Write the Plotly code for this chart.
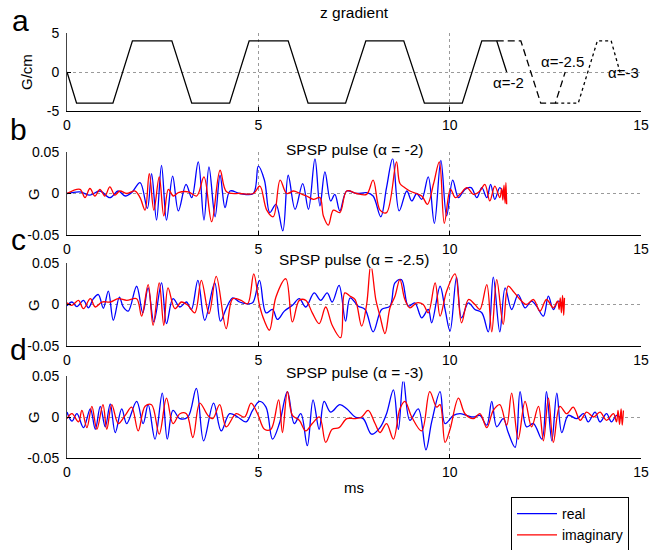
import plotly.graph_objects as go

# ---------------- data ----------------
# z gradient (G/cm) vs time (ms)
grad_a2 = [(0, 0), (0.25, -4), (1.2, -4), (1.71, 4), (2.74, 4), (3.26, -4), (4.25, -4), (4.76, 4),
           (5.78, 4), (6.3, -4), (7.28, -4), (7.81, 4), (8.8, 4), (9.34, -4), (10.33, -4), (10.84, 4),
           (11.23, 4), (11.49, 0)]
grad_a25 = [(11.23, 4), (11.86, 4), (12.38, -4), (12.76, -4), (13.02, 0)]
grad_a3 = [(12.76, -4), (13.36, -4), (13.86, 4), (14.22, 4), (14.45, 0)]
grad_labels = [("α=-2", 11.55, -1.4), ("α=-2.5", 12.95, 1.3), ("α=-3", 14.55, 0.0)]

# SPSP pulse alpha=-2 (G)
b_real = [(0, 0), (0.34, 0.002), (0.6, -0.002), (0.86, 0.003), (1.12, -0.005), (1.34, 0.003), (1.52, -0.003),
          (1.69, 0.001), (1.91, 0.013), (2.1, -0.018), (2.21, 0.024), (2.34, -0.032), (2.47, 0.034), (2.6, -0.032),
          (2.76, 0.021), (2.91, -0.021), (3.11, 0.011), (3.26, -0.005), (3.43, 0.038), (3.58, -0.032), (3.71, 0.032),
          (3.87, -0.028), (4.0, 0.022), (4.13, -0.017), (4.26, 0.003), (4.52, 0), (4.87, 0), (5.0, 0.033),
          (5.16, 0.016), (5.3, -0.023), (5.46, -0.013), (5.64, -0.045), (5.78, 0.022), (5.96, -0.019), (6.16, 0.012),
          (6.31, -0.019), (6.48, 0.042), (6.61, -0.015), (6.74, 0.026), (6.89, -0.009), (7.0, -0.001), (7.13, -0.021),
          (7.31, 0.003), (7.57, 0.0), (7.83, 0.001), (8.0, -0.003), (8.2, -0.028), (8.35, 0.007), (8.51, 0.042),
          (8.68, -0.021), (8.88, 0.003), (9.01, -0.009), (9.14, 0.0), (9.27, -0.007), (9.44, 0.02), (9.6, -0.036),
          (9.77, 0.04), (9.92, -0.027), (10.08, 0.016), (10.23, -0.005), (10.4, 0.005), (10.56, 0.007),
          (10.71, -0.005), (10.84, 0.007), (10.97, -0.005), (11.07, 0.011), (11.18, -0.007), (11.31, 0.007),
          (11.45, -0.007)]
b_imag = [(0, 0), (0.34, 0.005), (0.47, -0.005), (0.6, 0.006), (0.73, -0.003), (0.86, 0.005), (0.99, -0.003),
          (1.12, 0.008), (1.25, -0.002), (1.38, 0.003), (1.56, 0), (1.78, 0.003), (1.91, -0.005), (2.04, -0.02),
          (2.15, 0.024), (2.27, -0.02), (2.41, 0.02), (2.53, -0.027), (2.65, 0.005), (2.78, -0.003), (2.91, 0.001),
          (3.17, 0.002), (3.39, -0.003), (3.58, 0.02), (3.78, -0.034), (4.0, 0.028), (4.17, 0.002), (4.52, 0),
          (4.87, 0), (5.04, 0.009), (5.22, -0.02), (5.39, -0.028), (5.57, 0.016), (5.74, 0), (5.92, 0.003),
          (6.09, 0), (6.26, -0.003), (6.44, -0.007), (6.61, -0.005), (6.7, -0.027), (6.83, -0.038), (6.96, -0.02),
          (7.13, -0.023), (7.31, 0.003), (7.57, 0), (7.83, -0.001), (8.0, 0.016), (8.18, -0.02), (8.35, -0.023),
          (8.61, 0.038), (8.7, 0.012), (8.83, 0.007), (8.96, 0.003), (9.27, -0.003), (9.42, -0.013), (9.58, 0.012),
          (9.73, 0.038), (9.86, -0.036), (10.02, 0.005), (10.15, -0.005), (10.27, -0.001), (10.45, 0.007),
          (10.62, -0.001), (10.79, 0.003), (10.92, 0.011), (11.05, -0.009), (11.18, 0.009), (11.31, -0.005),
          (11.36, 0.006), (11.39, -0.008), (11.42, 0.01), (11.45, -0.012), (11.47, 0.013), (11.49, -0.013)]

# SPSP pulse alpha=-2.5 (G)
c_real = [(0, -0.0015), (0.13, 0.003), (0.26, -0.0026), (0.43, 0.005), (0.56, -0.004), (0.69, 0.007),
          (0.82, 0.012), (0.95, -0.0045), (1.08, 0.016), (1.21, -0.019), (1.37, 0.009), (1.47, -0.003),
          (1.6, -0.008), (1.82, 0.022), (1.98, -0.01), (2.12, 0.02), (2.27, -0.021), (2.47, 0.026), (2.6, -0.023),
          (2.77, 0.007), (2.95, -0.003), (3.12, 0.003), (3.25, -0.006), (3.42, 0.029), (3.6, -0.019), (3.86, 0.026),
          (4.01, -0.02), (4.16, -0.005), (4.33, 0.008), (4.51, 0.003), (4.68, 0.001), (4.85, 0.002), (5.03, 0.029),
          (5.2, -0.01), (5.37, -0.006), (5.5, -0.018), (5.68, -0.008), (5.89, -0.001), (6.07, 0.007),
          (6.24, -0.003), (6.46, 0.014), (6.63, 0.005), (6.8, 0.014), (6.93, 0.003), (7.11, 0.023), (7.28, -0.02),
          (7.4, 0.008), (7.61, -0.002), (7.79, -0.006), (8.0, -0.033), (8.22, -0.006), (8.44, -0.002),
          (8.57, 0.026), (8.74, 0.03), (8.92, -0.002), (9.09, 0.002), (9.27, -0.016), (9.44, -0.006),
          (9.53, -0.022), (9.75, 0.022), (9.88, -0.006), (10.01, -0.032), (10.18, 0.033), (10.31, -0.016),
          (10.49, 0.002), (10.66, -0.006), (10.84, -0.01), (11.01, -0.033), (11.14, 0.033), (11.31, -0.033),
          (11.45, 0.02), (11.62, -0.006), (11.79, 0.012), (11.97, -0.004), (12.14, 0.004), (12.27, -0.002),
          (12.45, -0.014), (12.58, 0.01), (12.71, -0.006), (12.84, 0.004), (12.97, 0)]
c_imag = [(0, 0.002), (0.13, -0.001), (0.3, 0.005), (0.43, -0.005), (0.61, 0.007), (0.74, -0.003), (0.91, 0.003),
          (1.13, 0.003), (1.34, 0.007), (1.56, 0.005), (1.82, 0.007), (1.95, -0.014), (2.12, 0.024), (2.25, -0.025),
          (2.41, 0.026), (2.53, -0.025), (2.64, 0.02), (2.82, -0.005), (2.99, 0.003), (3.16, -0.001), (3.34, -0.01),
          (3.51, 0.029), (3.71, -0.011), (3.9, 0.034), (4.16, -0.029), (4.33, 0.007), (4.55, 0.005), (4.72, 0.001),
          (4.88, 0.037), (5.03, -0.001), (5.16, -0.02), (5.29, -0.031), (5.46, 0.009), (5.72, 0.031),
          (5.89, -0.021), (6.07, 0.005), (6.24, 0.005), (6.41, -0.01), (6.59, -0.023), (6.76, -0.003),
          (6.93, -0.025), (7.15, -0.04), (7.26, 0.014), (7.4, 0.01), (7.53, 0.006), (7.7, -0.026), (7.83, 0),
          (7.94, 0.048), (8.07, 0.006), (8.18, -0.014), (8.31, -0.035), (8.44, -0.004), (8.57, 0.01), (8.7, 0.03),
          (8.83, 0.006), (8.96, -0.004), (9.14, 0.002), (9.31, 0), (9.44, -0.01), (9.62, 0.026), (9.75, -0.014),
          (9.92, 0.016), (10.14, 0.037), (10.31, -0.022), (10.49, 0.006), (10.66, 0), (10.79, -0.006),
          (10.97, 0.024), (11.1, -0.033), (11.23, 0.03), (11.4, -0.024), (11.53, 0.022), (11.66, 0.016),
          (11.84, 0.006), (12.01, 0), (12.19, 0.006), (12.36, -0.008), (12.53, 0.006), (12.71, -0.004),
          (12.82, 0.004), (12.86, -0.006), (12.89, 0.008), (12.92, -0.01), (12.95, 0.011), (12.98, -0.013),
          (13.0, 0.008)]

# SPSP pulse alpha=-3 (G)
d_real = [(0, 0.006), (0.13, -0.005), (0.26, 0.004), (0.43, -0.013), (0.61, 0.01), (0.74, -0.015), (0.87, 0.013),
          (1.0, -0.012), (1.13, 0.016), (1.26, -0.019), (1.43, 0.01), (1.56, -0.008), (1.82, 0.019), (1.99, -0.008),
          (2.12, 0.015), (2.3, -0.027), (2.49, 0.029), (2.62, -0.027), (2.77, 0.008), (2.95, -0.002), (3.16, 0),
          (3.38, 0.035), (3.57, -0.029), (3.83, 0.017), (4.03, -0.017), (4.25, 0.004), (4.46, 0), (4.68, -0.006),
          (4.85, 0.008), (5.03, 0.019), (5.2, 0.012), (5.37, -0.027), (5.55, -0.008), (5.76, 0.031),
          (5.94, -0.008), (6.11, 0.004), (6.28, -0.035), (6.43, 0.021), (6.59, -0.015), (6.72, 0.019),
          (6.89, 0.006), (7.13, 0.015), (7.31, 0.01), (7.53, 0), (7.74, -0.002), (7.96, -0.021), (8.18, -0.013),
          (8.35, 0.004), (8.53, 0.033), (8.66, -0.015), (8.79, 0.046), (8.96, -0.004), (9.18, 0.01), (9.38, -0.04),
          (9.53, -0.006), (9.75, 0.031), (9.88, -0.008), (10.1, 0.002), (10.27, 0.004), (10.44, 0.002),
          (10.62, 0), (10.79, 0.002), (10.97, -0.01), (11.1, 0.019), (11.23, -0.012), (11.4, -0.002),
          (11.53, -0.019), (11.71, -0.037), (11.84, 0.031), (12.01, -0.012), (12.19, -0.008), (12.41, -0.027),
          (12.53, 0.031), (12.67, -0.029), (12.8, 0.029), (12.93, -0.019), (13.1, 0.002), (13.32, -0.002),
          (13.5, 0.004), (13.62, -0.006), (13.8, 0.006), (13.93, -0.006), (14.1, 0.004), (14.23, -0.006),
          (14.36, 0.002), (14.49, -0.002)]
d_imag = [(0, -0.002), (0.13, 0.004), (0.3, -0.006), (0.39, 0.008), (0.52, -0.013), (0.65, 0.013), (0.78, -0.015),
          (0.94, 0.015), (1.04, -0.015), (1.17, 0.015), (1.34, -0.008), (1.52, 0.002), (1.69, 0.012),
          (1.86, -0.017), (2.04, 0.013), (2.21, 0.015), (2.41, -0.021), (2.6, 0.023), (2.77, -0.008), (2.95, 0.004),
          (3.12, 0.004), (3.29, -0.025), (3.47, 0.017), (3.68, 0.002), (3.81, -0.002), (3.99, 0.015),
          (4.16, -0.012), (4.42, 0.004), (4.64, 0), (4.81, 0.017), (4.98, 0.004), (5.16, -0.015), (5.33, -0.015),
          (5.53, 0.021), (5.63, -0.019), (5.76, 0.031), (5.89, 0.002), (6.07, -0.004), (6.24, -0.017),
          (6.41, -0.008), (6.6, 0), (6.76, -0.031), (6.93, -0.015), (7.11, -0.013), (7.31, -0.002), (7.53, -0.002),
          (7.7, 0), (7.87, 0.008), (8.05, -0.008), (8.18, -0.019), (8.35, -0.008), (8.53, -0.027), (8.7, 0.01),
          (8.83, 0.019), (9.01, 0), (9.27, -0.017), (9.48, 0.031), (9.66, 0.012), (9.75, 0.015), (9.88, -0.031),
          (10.01, -0.015), (10.23, 0.023), (10.4, 0.004), (10.62, -0.002), (10.79, 0.004), (10.97, -0.013),
          (11.14, 0.008), (11.31, 0.015), (11.49, -0.01), (11.62, 0.029), (11.79, -0.027), (11.97, 0.019),
          (12.14, -0.012), (12.32, 0.013), (12.45, -0.029), (12.58, 0.023), (12.71, -0.031), (12.88, 0.013),
          (13.06, 0.004), (13.23, 0.012), (13.41, -0.004), (13.58, 0.006), (13.76, 0), (13.93, 0.006),
          (14.1, -0.004), (14.28, 0.004), (14.36, -0.006), (14.4, 0.008), (14.44, -0.009), (14.48, 0.01),
          (14.51, -0.01), (14.54, 0.008)]

panel_titles = ["z gradient", "SPSP pulse (α = -2)", "SPSP pulse (α = -2.5)", "SPSP pulse (α = -3)"]
panel_letters = ["a", "b", "c", "d"]
x_ticks = [0, 5, 10, 15]
series_names = ["real", "imaginary"]

# ---------------- figure ----------------
# Positions are given in window pixels; the page's body margin is removed
# by a small post script so the figure starts at the window's corner.
W, H = 657, 550
FONT = "Liberation Sans, Arial, Helvetica, sans-serif"
X0, X1 = 67, 641
panels_px = [(33, 111), (152, 235), (263, 346), (376, 458)]  # top, bottom in window px


def px(p):
    return p / W


def py(p):
    return 1 - p / H


def xy(pairs):
    return [p[0] for p in pairs], [p[1] for p in pairs]


fig = go.Figure()

# panel a
for data, dash in [(grad_a3, "dot"), (grad_a25, "7px,4px"), (grad_a2, "solid")]:
    x, y = xy(data)
    fig.add_trace(go.Scatter(x=x, y=y, mode="lines", xaxis="x", yaxis="y",
                             line=dict(color="black", width=1.3, dash=dash), showlegend=False))

pulse_sets = [(b_real, b_imag), (c_real, c_imag), (d_real, d_imag)]
for i, (re_, im_) in enumerate(pulse_sets):
    k = i + 2
    for data, col, name in [(re_, "#0000ff", series_names[0]), (im_, "#ff0000", series_names[1])]:
        x, y = xy(data)
        fig.add_trace(go.Scatter(x=x, y=y, mode="lines", xaxis=f"x{k}", yaxis=f"y{k}",
                                 line=dict(color=col, width=1.3, shape="spline", smoothing=1.0),
                                 name=name, showlegend=(i == 0)))

axis_common = dict(showgrid=True, gridcolor="#9a9a9a", griddash="dot", gridwidth=1,
                   showline=True, linecolor="black", linewidth=1, ticks="inside", ticklen=4,
                   tickcolor="black", zeroline=False, tickfont=dict(family=FONT, size=14, color="black"),
                   mirror=False, automargin=False)
layout = dict(width=W, height=H, margin=dict(l=0, r=0, t=0, b=0, pad=0, autoexpand=False), autosize=False,
              paper_bgcolor="white", plot_bgcolor="white", font=dict(family=FONT, color="black"))
for i, (top, bot) in enumerate(panels_px):
    sx = "" if i == 0 else str(i + 1)
    layout[f"xaxis{sx}"] = dict(axis_common, domain=[px(X0), px(X1)], range=[0, 15], tickvals=x_ticks,
                                anchor=f"y{sx}", ticklabelstandoff=1)
    if i == 0:
        yr, tv, tt = [-5, 5], [-5, 0, 5], ["-5", "0", "5"]
    else:
        yr, tv, tt = [-0.05, 0.05], [-0.05, 0, 0.05], ["-0.05", "0", "0.05"]
    layout[f"yaxis{sx}"] = dict(axis_common, domain=[py(bot), py(top)], range=yr, tickvals=tv, ticktext=tt,
                                anchor=f"x{sx}", linecolor="#444", ticklabelstandoff=4)
fig.update_layout(**layout)

ann = []
title_y = [12, 149, 260, 372]
for i in range(4):
    ann.append(dict(text=panel_titles[i], x=px((X0 + X1) / 2), y=py(title_y[i]), xref="paper", yref="paper",
                    showarrow=False, font=dict(family=FONT, size=15.5, color="black"), bgcolor="white",
                    xanchor="center", yanchor="middle", borderpad=0))
letter_pos = [(20, 20), (18, 129), (18, 240), (18, 349)]
for i, (lx, ly) in enumerate(letter_pos):
    ann.append(dict(text=panel_letters[i], x=px(lx), y=py(ly), xref="paper", yref="paper", showarrow=False,
                    font=dict(family=FONT, size=30, color="black"), xanchor="center", yanchor="middle"))
ylab = [("G/cm", 27, 72), ("G", 33, 194), ("G", 33, 305), ("G", 33, 417)]
for t, lx, ly in ylab:
    ann.append(dict(text=t, x=px(lx), y=py(ly), xref="paper", yref="paper", showarrow=False, textangle=-90,
                    font=dict(family=FONT, size=15, color="black"), xanchor="center", yanchor="middle"))
ann.append(dict(text="ms", x=px((X0 + X1) / 2), y=py(487), xref="paper", yref="paper", showarrow=False,
                font=dict(family=FONT, size=15, color="black"), xanchor="center", yanchor="middle"))
for txt, gx, gy in grad_labels:
    ann.append(dict(text=txt, x=gx, y=gy, xref="x", yref="y", showarrow=False,
                    font=dict(family=FONT, size=15, color="black"), xanchor="center", yanchor="middle"))
fig.update_layout(annotations=ann)

fig.update_layout(legend=dict(x=px(511), y=py(497), xanchor="left", yanchor="top", bgcolor="white",
                              bordercolor="black", borderwidth=1, font=dict(family=FONT, size=14, color="black"),
                              tracegroupgap=0, itemwidth=40))

fig.write_html("out.html", config={"displayModeBar": False},
               post_script="document.body.style.margin='0px';document.body.style.overflow='hidden';")
